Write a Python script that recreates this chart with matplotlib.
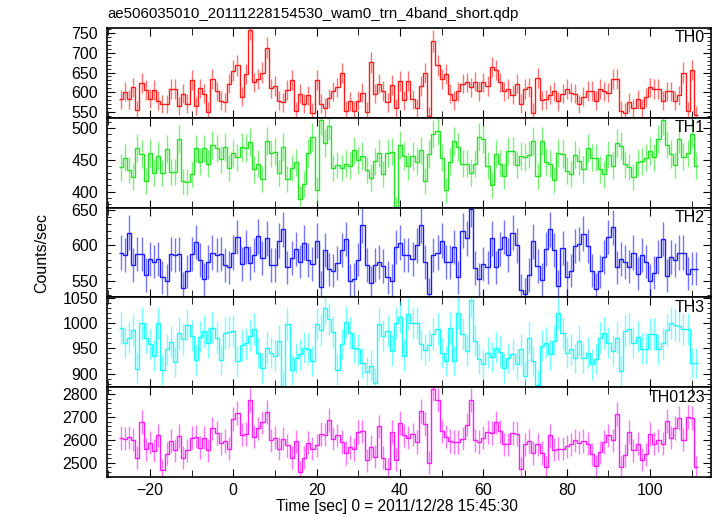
import numpy as np
import matplotlib
matplotlib.use("Agg")
import matplotlib.pyplot as plt
from matplotlib.ticker import MultipleLocator

plt.rcParams['font.family'] = ['Liberation Sans', 'DejaVu Sans']

# 1 s bins, centres at -27 ... 111 s
t = np.arange(-27, 112)
edges = np.arange(-27.5, 112.0, 1.0)

th0 = [582, 601, 582, 612, 554, 624, 606, 584, 606, 578,
       570, 570, 608, 608, 565, 596, 571, 631, 565, 610,
       596, 551, 633, 602, 578, 574, 622, 655, 668, 588,
       645, 759, 625, 633, 650, 713, 610, 616, 578, 574,
       606, 632, 552, 596, 571, 592, 548, 632, 571, 561,
       585, 602, 612, 648, 553, 577, 553, 578, 599, 551,
       676, 596, 622, 603, 574, 619, 559, 629, 580, 629,
       582, 559, 616, 648, 540, 730, 668, 633, 645, 596,
       580, 602, 622, 625, 612, 627, 603, 625, 616, 664,
       657, 625, 602, 608, 594, 622, 571, 608, 612, 548,
       636, 580, 582, 594, 602, 577, 596, 608, 599, 596,
       570, 588, 603, 603, 578, 608, 602, 599, 633, 633,
       553, 548, 574, 559, 582, 559, 587, 612, 608, 608,
       578, 602, 602, 578, 592, 650, 552, 657, 541]

th1 = [438, 453, 434, 423, 469, 459, 417, 461, 429, 456,
       429, 467, 431, 431, 482, 416, 415, 428, 468, 447,
       468, 444, 473, 468, 451, 470, 437, 460, 454, 470,
       469, 478, 435, 444, 420, 480, 460, 463, 429, 470,
       420, 437, 446, 389, 412, 461, 486, 403, 512, 476,
       503, 437, 442, 437, 444, 441, 465, 449, 456, 434,
       422, 448, 461, 428, 461, 463, 372, 473, 456, 440,
       456, 447, 465, 417, 459, 490, 495, 453, 402, 447,
       480, 470, 444, 444, 430, 444, 486, 482, 441, 411,
       459, 444, 425, 464, 464, 442, 456, 454, 458, 479,
       425, 479, 447, 444, 418, 461, 459, 433, 428, 458,
       448, 435, 469, 453, 453, 435, 427, 458, 441, 477,
       472, 443, 439, 423, 446, 448, 453, 464, 454, 482,
       512, 474, 459, 442, 482, 455, 460, 490, 441]

th2 = [590, 586, 618, 572, 588, 588, 558, 581, 577, 581,
       555, 550, 588, 586, 588, 539, 563, 588, 605, 579,
       552, 576, 590, 587, 588, 572, 569, 590, 612, 574,
       598, 575, 587, 613, 582, 610, 572, 572, 607, 623,
       569, 582, 595, 577, 604, 579, 574, 607, 541, 594,
       566, 564, 575, 594, 609, 550, 552, 580, 629, 572,
       547, 572, 576, 571, 555, 550, 598, 604, 587, 586,
       581, 600, 629, 576, 531, 586, 590, 607, 576, 576,
       598, 555, 621, 610, 652, 568, 552, 574, 569, 610,
       569, 595, 612, 586, 618, 600, 536, 531, 558, 606,
       571, 551, 595, 623, 593, 542, 596, 555, 564, 599,
       602, 617, 599, 564, 538, 563, 583, 612, 626, 569,
       581, 576, 570, 590, 560, 587, 577, 550, 561, 583,
       609, 557, 583, 579, 590, 590, 560, 567, 567]

th3 = [991, 961, 971, 987, 910, 1001, 971, 958, 935, 1000,
       907, 948, 963, 923, 981, 968, 996, 975, 927, 973,
       985, 961, 991, 971, 927, 981, 983, 985, 925, 956,
       960, 975, 989, 941, 911, 951, 941, 935, 965, 876,
       998, 907, 931, 938, 951, 949, 925, 998, 987, 1029,
       1008, 983, 908, 958, 1003, 981, 951, 948, 921, 903,
       916, 881, 998, 975, 985, 945, 1000, 1013, 935, 1018,
       1001, 1001, 958, 947, 956, 978, 988, 941, 925, 990,
       925, 1021, 978, 945, 1045, 965, 929, 918, 941, 933,
       951, 943, 911, 931, 938, 918, 948, 895, 971, 925,
       878, 955, 961, 938, 965, 1020, 980, 941, 948, 931,
       965, 931, 941, 918, 929, 971, 981, 961, 945, 971,
       905, 985, 989, 961, 973, 949, 949, 979, 978, 948,
       960, 987, 1001, 996, 995, 989, 988, 921, 921]

th0123 = [2608, 2605, 2612, 2601, 2523, 2679, 2559, 2588, 2552, 2620,
          2468, 2540, 2595, 2555, 2617, 2523, 2555, 2610, 2615, 2566,
          2610, 2555, 2651, 2630, 2586, 2595, 2562, 2692, 2718, 2623,
          2627, 2775, 2615, 2651, 2677, 2721, 2598, 2610, 2562, 2605,
          2576, 2523, 2594, 2460, 2523, 2588, 2562, 2576, 2627, 2623,
          2687, 2605, 2620, 2591, 2543, 2569, 2559, 2634, 2638, 2511,
          2569, 2526, 2659, 2523, 2471, 2634, 2514, 2673, 2620, 2610,
          2624, 2591, 2728, 2670, 2500, 2822, 2774, 2638, 2615, 2595,
          2591, 2591, 2605, 2667, 2774, 2598, 2591, 2610, 2634, 2630,
          2677, 2638, 2581, 2581, 2630, 2627, 2475, 2581, 2595, 2543,
          2581, 2543, 2480, 2620, 2558, 2562, 2562, 2572, 2581, 2598,
          2588, 2595, 2584, 2537, 2485, 2547, 2591, 2620, 2598, 2713,
          2480, 2533, 2634, 2555, 2584, 2514, 2537, 2627, 2584, 2598,
          2584, 2682, 2610, 2653, 2696, 2601, 2699, 2697, 2480]

names = ["TH0", "TH1", "TH2", "TH3", "TH0123"]
series = [th0, th1, th2, th3, th0123]
colors = ["#ff1a1a", "#22e622", "#1a1aff", "#1affff", "#ff1aff"]
ylims = [(535, 763), (375, 516), (526, 654), (873, 1051), (2438, 2831)]
major = [50, 50, 50, 50, 100]
minor = [10, 10, 10, 10, 20]

fig, axes = plt.subplots(5, 1, sharex=True, figsize=(7.17, 5.16), dpi=100)
fig.subplots_adjust(left=0.1492, right=0.9916, top=0.9457, bottom=0.0756, hspace=0)

for ax, name, vals, col, yl, mj, mn in zip(axes, names, series, colors, ylims, major, minor):
    vals = np.array(vals, dtype=float)
    err = np.sqrt(vals)  # 1 s bins -> poisson error on the rate
    ax.errorbar(t, vals, yerr=err, fmt='none', ecolor=col, elinewidth=1.0, alpha=0.6)
    ax.stairs(vals, edges, color=col, lw=1.0, baseline=None)
    ax.set_ylim(*yl)
    ax.yaxis.set_major_locator(MultipleLocator(mj))
    ax.yaxis.set_minor_locator(MultipleLocator(mn))
    ax.text(0.99, 0.89, name, transform=ax.transAxes, ha='right', va='center', fontsize=11.5)
    ax.tick_params(which='both', direction='in', top=True, right=True, labelsize=11.5)
    ax.tick_params(axis='y', which='major', length=6, pad=6.5)
    ax.tick_params(axis='y', which='minor', length=3)
    ax.tick_params(axis='x', which='major', length=6)
    ax.tick_params(axis='x', which='minor', length=5)
    for s in ax.spines.values():
        s.set_linewidth(1.2)

axes[-1].set_xlim(-30.3, 114.6)
axes[-1].xaxis.set_major_locator(MultipleLocator(20))
axes[-1].xaxis.set_minor_locator(MultipleLocator(10))
axes[-1].tick_params(axis='x', pad=4)

fig.text(0.1492, 0.973, "ae506035010_20111228154530_wam0_trn_4band_short.qdp",
         ha='left', va='center', fontsize=10.8)
fig.text(0.058, 0.51, "Counts/sec", rotation=90, ha='center', va='center', fontsize=11.5)
fig.text(0.553, 0.019, "Time [sec] 0 = 2011/12/28 15:45:30", ha='center', va='center', fontsize=11.2)

fig.savefig("out.png", dpi=100)
